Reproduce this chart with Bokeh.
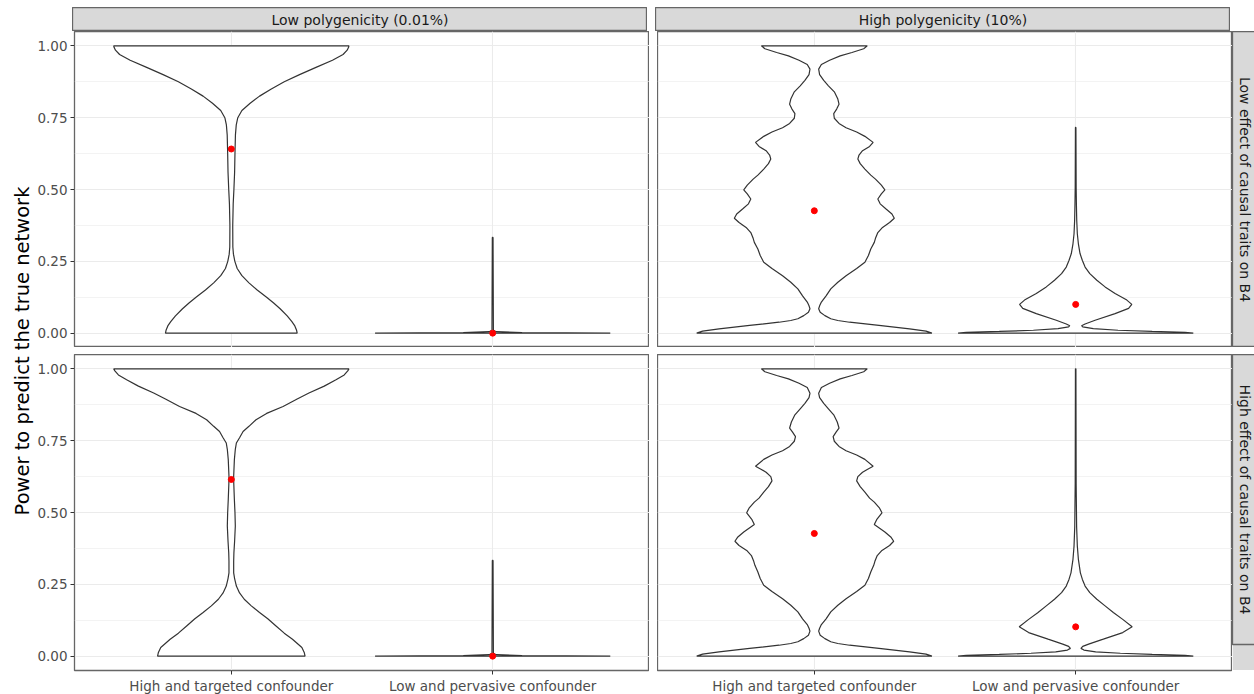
import numpy as np
from bokeh.plotting import figure
from bokeh.layouts import row, column, Spacer
from bokeh.models import Range1d, FixedTicker
from bokeh.core.properties import value
from bokeh.embed import file_html
from bokeh.resources import INLINE

# ---------------- data ----------------
categories = ["High and targeted confounder", "Low and pervasive confounder"]
col_labels = ["Low polygenicity (0.01%)", "High polygenicity (10%)"]
row_labels = ["Low effect of causal traits on B4", "High effect of causal traits on B4"]
y_ticks = [0.0, 0.25, 0.5, 0.75, 1.0]
y_tick_labels = ["0.00", "0.25", "0.50", "0.75", "1.00"]
y_title = "Power to predict the true network"

# violin outlines: y level and relative half-width (1 = widest violin)
# row 0 = low effect, col 0 = low polygenicity
lowpoly_loweff_targeted_y = [0.000, 0.010, 0.025, 0.040, 0.060, 0.085, 0.105, 0.125, 0.150, 0.175, 0.200,
                             0.225, 0.250, 0.275, 0.300, 0.375, 0.450, 0.500, 0.560, 0.625, 0.690, 0.725,
                             0.750, 0.775, 0.800, 0.825, 0.850, 0.875, 0.900, 0.925, 0.950, 0.970, 0.985,
                             0.995, 1.000]
lowpoly_loweff_targeted_w = [0.560, 0.555, 0.540, 0.515, 0.475, 0.415, 0.360, 0.300, 0.220, 0.150, 0.090,
                             0.050, 0.030, 0.018, 0.013, 0.012, 0.016, 0.022, 0.028, 0.031, 0.035, 0.042,
                             0.055, 0.090, 0.160, 0.240, 0.340, 0.450, 0.580, 0.720, 0.860, 0.950, 0.985,
                             0.997, 1.000]
lowpoly_loweff_pervasive_y = [0.000, 0.002, 0.005, 0.010, 0.333]
lowpoly_loweff_pervasive_w = [1.000, 0.250, 0.030, 0.006, 0.003]

highpoly_loweff_targeted_y = [0.000, 0.007, 0.015, 0.027, 0.038, 0.044, 0.050, 0.061, 0.073, 0.085, 0.095,
                              0.108, 0.130, 0.154, 0.177, 0.200, 0.225, 0.247, 0.270, 0.293, 0.316, 0.330,
                              0.350, 0.368, 0.385, 0.400, 0.415, 0.432, 0.450, 0.467, 0.485, 0.499, 0.515,
                              0.536, 0.550, 0.571, 0.590, 0.606, 0.620, 0.635, 0.650, 0.664, 0.685, 0.700,
                              0.715, 0.730, 0.748, 0.764, 0.780, 0.797, 0.815, 0.840, 0.861, 0.880, 0.900,
                              0.919, 0.935, 0.950, 0.965, 0.977, 0.990, 1.000]
highpoly_loweff_targeted_w = [1.000, 0.950, 0.810, 0.550, 0.300, 0.200, 0.140, 0.090, 0.050, 0.037, 0.045,
                              0.060, 0.100, 0.140, 0.200, 0.270, 0.360, 0.430, 0.460, 0.480, 0.510, 0.520,
                              0.540, 0.580, 0.640, 0.680, 0.660, 0.610, 0.560, 0.540, 0.570, 0.600, 0.570,
                              0.520, 0.480, 0.430, 0.390, 0.370, 0.380, 0.410, 0.470, 0.500, 0.430, 0.360,
                              0.270, 0.210, 0.170, 0.165, 0.190, 0.210, 0.200, 0.170, 0.120, 0.080, 0.045,
                              0.037, 0.060, 0.130, 0.220, 0.320, 0.420, 0.450]
highpoly_loweff_pervasive_y = [0.000, 0.003, 0.006, 0.010, 0.016, 0.022, 0.026, 0.032, 0.045, 0.068, 0.086,
                               0.100, 0.115, 0.138, 0.161, 0.184, 0.207, 0.230, 0.253, 0.277, 0.311, 0.346,
                               0.392, 0.450, 0.508, 0.716]
highpoly_loweff_pervasive_w = [1.000, 0.930, 0.650, 0.360, 0.150, 0.060, 0.050, 0.080, 0.165, 0.335, 0.450,
                               0.477, 0.435, 0.335, 0.250, 0.180, 0.120, 0.080, 0.057, 0.037, 0.023, 0.014,
                               0.009, 0.006, 0.004, 0.002]

lowpoly_higheff_targeted_y = [0.000, 0.013, 0.030, 0.059, 0.080, 0.105, 0.130, 0.152, 0.175, 0.198, 0.220,
                              0.244, 0.270, 0.290, 0.330, 0.360, 0.400, 0.453, 0.500, 0.545, 0.600, 0.626,
                              0.684, 0.720, 0.742, 0.760, 0.782, 0.800, 0.823, 0.845, 0.869, 0.895, 0.916,
                              0.940, 0.962, 0.979, 0.993, 1.000]
lowpoly_higheff_targeted_w = [0.627, 0.620, 0.600, 0.520, 0.450, 0.380, 0.310, 0.240, 0.170, 0.110, 0.070,
                              0.043, 0.028, 0.020, 0.020, 0.022, 0.028, 0.034, 0.031, 0.026, 0.021, 0.020,
                              0.026, 0.034, 0.043, 0.070, 0.100, 0.150, 0.210, 0.300, 0.440, 0.560, 0.660,
                              0.790, 0.890, 0.960, 0.990, 1.000]
lowpoly_higheff_pervasive_y = [0.000, 0.002, 0.005, 0.010, 0.333]
lowpoly_higheff_pervasive_w = [1.000, 0.250, 0.030, 0.006, 0.003]

highpoly_higheff_targeted_y = [0.000, 0.007, 0.015, 0.027, 0.038, 0.044, 0.050, 0.061, 0.073, 0.087, 0.097,
                               0.110, 0.130, 0.154, 0.177, 0.200, 0.225, 0.247, 0.270, 0.293, 0.316, 0.330,
                               0.350, 0.368, 0.385, 0.400, 0.415, 0.432, 0.458, 0.475, 0.499, 0.515, 0.536,
                               0.550, 0.571, 0.590, 0.610, 0.625, 0.640, 0.650, 0.661, 0.685, 0.700, 0.715,
                               0.730, 0.748, 0.764, 0.780, 0.794, 0.815, 0.840, 0.861, 0.880, 0.900, 0.915,
                               0.935, 0.950, 0.965, 0.977, 0.990, 1.000]
highpoly_higheff_targeted_w = [1.000, 0.950, 0.810, 0.550, 0.300, 0.200, 0.140, 0.090, 0.050, 0.037, 0.045,
                               0.060, 0.100, 0.140, 0.200, 0.270, 0.360, 0.430, 0.460, 0.480, 0.505, 0.515,
                               0.535, 0.575, 0.640, 0.675, 0.650, 0.600, 0.510, 0.530, 0.575, 0.555, 0.510,
                               0.470, 0.430, 0.390, 0.360, 0.370, 0.410, 0.450, 0.500, 0.430, 0.360, 0.270,
                               0.210, 0.170, 0.160, 0.185, 0.210, 0.195, 0.165, 0.120, 0.080, 0.045, 0.037,
                               0.060, 0.130, 0.220, 0.320, 0.420, 0.450]
highpoly_higheff_pervasive_y = [0.000, 0.003, 0.006, 0.010, 0.015, 0.021, 0.027, 0.034, 0.042, 0.059, 0.082,
                                0.102, 0.128, 0.152, 0.175, 0.198, 0.221, 0.244, 0.267, 0.290, 0.337, 0.383,
                                0.450, 0.600, 1.000]
highpoly_higheff_pervasive_w = [1.000, 0.930, 0.650, 0.380, 0.170, 0.070, 0.045, 0.060, 0.110, 0.235, 0.400,
                                0.480, 0.400, 0.320, 0.250, 0.180, 0.120, 0.080, 0.057, 0.040, 0.023, 0.014,
                                0.008, 0.004, 0.002]

# means (red points): [targeted, pervasive]
lowpoly_loweff_means = [0.641, 0.000]
highpoly_loweff_means = [0.426, 0.100]
lowpoly_higheff_means = [0.615, 0.000]
highpoly_higheff_means = [0.427, 0.102]

panels = {
    (0, 0): ([(lowpoly_loweff_targeted_y, lowpoly_loweff_targeted_w),
              (lowpoly_loweff_pervasive_y, lowpoly_loweff_pervasive_w)], lowpoly_loweff_means),
    (0, 1): ([(highpoly_loweff_targeted_y, highpoly_loweff_targeted_w),
              (highpoly_loweff_pervasive_y, highpoly_loweff_pervasive_w)], highpoly_loweff_means),
    (1, 0): ([(lowpoly_higheff_targeted_y, lowpoly_higheff_targeted_w),
              (lowpoly_higheff_pervasive_y, lowpoly_higheff_pervasive_w)], lowpoly_higheff_means),
    (1, 1): ([(highpoly_higheff_targeted_y, highpoly_higheff_targeted_w),
              (highpoly_higheff_pervasive_y, highpoly_higheff_pervasive_w)], highpoly_higheff_means),
}

# ---------------- style ----------------
FONT = "DejaVu Sans"
GRID = "#EBEBEB"
DARK = "#333333"
BORDER = "#666666"
STRIP_FILL = "#D9D9D9"
FW, FH = 575, 316
HALF = 0.45
x_pos = [i + 1 for i in range(len(categories))]
minor_y = [(a + b) / 2 for a, b in zip(y_ticks[:-1], y_ticks[1:])]


def violin_xy(center, ys, ws):
    ys = np.asarray(ys, dtype=float)
    ws = np.asarray(ws, dtype=float)
    xr = center + ws * HALF
    xl = center - ws * HALF
    return np.concatenate([xr, xl[::-1]]), np.concatenate([ys, ys[::-1]])


def make_panel(r, c):
    show_x = r == 1
    show_y = c == 0
    p = figure(frame_width=FW, frame_height=FH,
               x_range=Range1d(0.4, 2.6), y_range=Range1d(-0.05, 1.05),
               output_backend="svg", toolbar_location=None,
               x_axis_location="below" if show_x else None,
               y_axis_location="left" if show_y else None,
               min_border_left=38 if show_y else 0, min_border_right=0,
               min_border_top=0, min_border_bottom=24 if show_x else 0)
    p.background_fill_color = "white"
    p.border_fill_color = "white"
    p.outline_line_color = BORDER
    p.outline_line_width = 1.3
    p.xgrid.ticker = FixedTicker(ticks=x_pos)
    p.xgrid.grid_line_color = GRID
    p.xgrid.grid_line_width = 1.1
    p.ygrid.ticker = FixedTicker(ticks=y_ticks, minor_ticks=minor_y)
    p.ygrid.grid_line_color = GRID
    p.ygrid.grid_line_width = 1.1
    p.ygrid.minor_grid_line_color = GRID
    p.ygrid.minor_grid_line_width = 0.6
    axes = []
    if show_y:
        p.yaxis.ticker = FixedTicker(ticks=y_ticks)
        p.yaxis.major_label_overrides = dict(zip(y_ticks, y_tick_labels))
        axes.append(p.yaxis)
    if show_x:
        p.xaxis.ticker = FixedTicker(ticks=x_pos)
        p.xaxis.major_label_overrides = dict(zip(x_pos, categories))
        axes.append(p.xaxis)
    for ax in axes:
        ax.axis_line_color = None
        ax.major_tick_line_color = DARK
        ax.major_tick_out = 4
        ax.major_tick_in = 0
        ax.minor_tick_line_color = None
        ax.major_label_text_color = "#4D4D4D"
        ax.major_label_text_font = FONT
        ax.major_label_text_font_size = "13.5px"
        ax.major_label_standoff = 3

    shapes, means = panels[(r, c)]
    for xc, (ys, ws) in zip(x_pos, shapes):
        xs, yy = violin_xy(xc, ys, ws)
        p.patch(xs, yy, fill_color="white", line_color=DARK, line_width=1.2)
    p.scatter(x_pos, means, size=6, color="red", line_color="red")
    return p


def strip_top(label):
    s = figure(width=FW, height=24, x_range=Range1d(0, 1), y_range=Range1d(0, 1),
               output_backend="svg", toolbar_location=None, min_border=0,
               x_axis_location=None, y_axis_location=None)
    s.grid.visible = False
    s.background_fill_color = STRIP_FILL
    s.border_fill_color = STRIP_FILL
    s.outline_line_color = BORDER
    s.outline_line_width = 1.3
    s.text(x=[0.5], y=[0.5], text=[label], text_align="center", text_baseline="middle",
           text_font=value(FONT), text_font_size="14px", text_color="#1A1A1A")
    return s


def strip_right(label):
    s = figure(width=24, height=FH, x_range=Range1d(0, 1), y_range=Range1d(0, 1),
               output_backend="svg", toolbar_location=None, min_border=0,
               x_axis_location=None, y_axis_location=None)
    s.grid.visible = False
    s.background_fill_color = STRIP_FILL
    s.border_fill_color = STRIP_FILL
    s.outline_line_color = BORDER
    s.outline_line_width = 1.3
    s.text(x=[0.5], y=[0.5], text=[label], angle=-np.pi / 2, text_align="center",
           text_baseline="middle", text_font=value(FONT), text_font_size="14px",
           text_color="#1A1A1A")
    return s


title_fig = figure(width=34, height=694, x_range=Range1d(0, 34), y_range=Range1d(0, 694),
                   output_backend="svg", toolbar_location=None, min_border=0,
                   x_axis_location=None, y_axis_location=None)
title_fig.grid.visible = False
title_fig.outline_line_color = None
title_fig.background_fill_color = "white"
title_fig.border_fill_color = "white"
title_fig.text(x=[22], y=[343.5], text=[y_title], angle=np.pi / 2, text_align="center",
               text_baseline="middle", text_font=value(FONT), text_font_size="19.5px",
               text_color="black")

grid_col = column(
    Spacer(height=7, width=1220),
    row(Spacer(width=38, height=24), strip_top(col_labels[0]), Spacer(width=8, height=24),
        strip_top(col_labels[1])),
    row(make_panel(0, 0), Spacer(width=8, height=FH), make_panel(0, 1), strip_right(row_labels[0])),
    Spacer(height=7, width=1220),
    row(make_panel(1, 0), Spacer(width=8, height=FH), make_panel(1, 1), strip_right(row_labels[1])),
)
layout = row(title_fig, grid_col)

open("out.html", "w").write(file_html(layout, INLINE))
